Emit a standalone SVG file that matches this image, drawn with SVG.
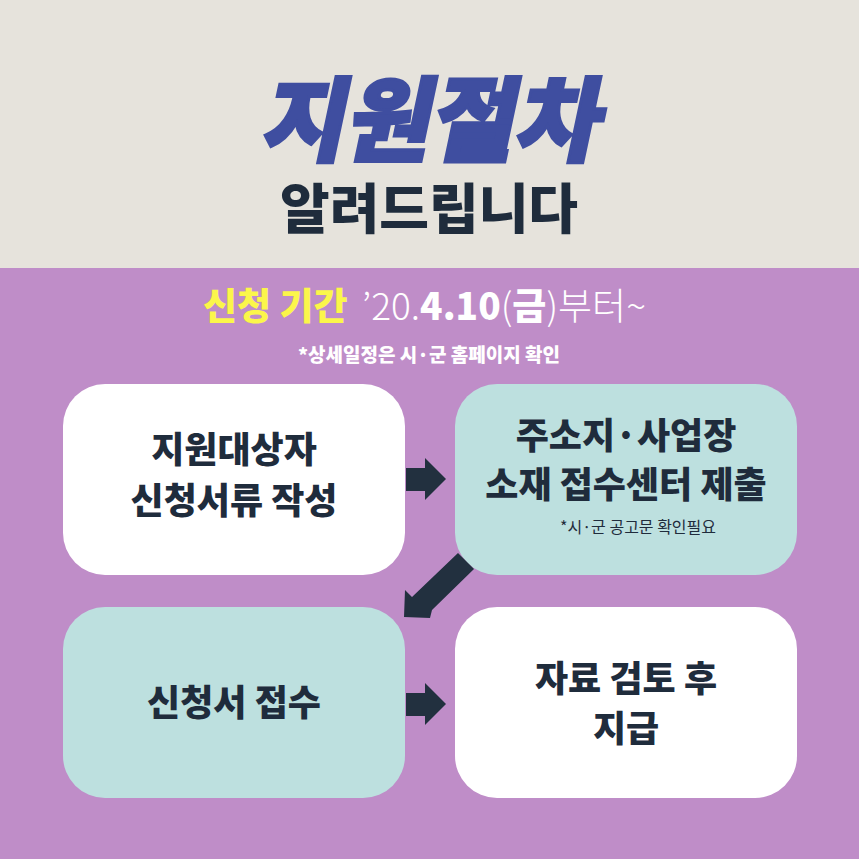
<svg xmlns="http://www.w3.org/2000/svg" width="859" height="859" viewBox="0 0 859 859">
<style>
.t{font-family:"Noto Sans CJK KR",sans-serif;font-weight:900;fill:#1f2c3c;text-anchor:middle}
.w{fill:#ffffff}.g{fill:#bde0df}
</style>
<rect width="859" height="268" fill="#e6e3dc"/>
<rect y="268" width="859" height="591" fill="#bf8dc8"/>
<text x="429" y="154" class="t" font-size="92" style="fill:#3f4ea0;stroke:#3f4ea0;stroke-width:3" transform="skewX(-12) translate(32,0)">지원절차</text>
<text x="429" y="229" class="t" font-size="54">알려드립니다</text>
<text x="203" y="320" font-family="Noto Sans CJK KR,sans-serif" font-weight="900" font-size="37" fill="#fbf64a">신청 기간</text>
<text x="362" y="320" font-family="Noto Sans CJK KR,sans-serif" font-size="37" fill="#fff" font-weight="300">’20.<tspan font-weight="900">4.10</tspan>(<tspan font-weight="900">금</tspan>)부터~</text>
<text x="429" y="362" class="t" font-size="19" style="fill:#fff">*상세일정은 시·군 홈페이지 확인</text>
<g id="n1"><rect x="63" y="384" width="342" height="191" rx="42" class="w"/><text class="t" x="234" y="463" font-size="36">지원대상자</text><text class="t" x="234" y="514" font-size="36">신청서류 작성</text></g>
<g id="n2"><rect x="455" y="384" width="342" height="191" rx="42" class="g"/><text class="t" x="626" y="449" font-size="36">주소지·사업장</text><text class="t" x="626" y="498" font-size="36">소재 접수센터 제출</text><text x="638" y="533" font-family="Noto Sans CJK KR,sans-serif" font-size="16" fill="#1f2c3c" text-anchor="middle">*시·군 공고문 확인필요</text></g>
<g id="n3"><rect x="63" y="607" width="342" height="191" rx="42" class="g"/><text class="t" x="234" y="716" font-size="36">신청서 접수</text></g>
<g id="n4"><rect x="455" y="607" width="342" height="191" rx="42" class="w"/><text class="t" x="626" y="692" font-size="36">자료 검토 후</text><text class="t" x="626" y="742" font-size="36">지급</text></g>
<g id="connectors" fill="#22303f">
<polygon points="406,468 425,468 425,458 446,479 425,500 425,491 406,491"/>
<polygon points="406,468 425,468 425,458 446,479 425,500 425,491 406,491" transform="translate(0,225)"/>
<polygon points="458,553 474,569 432,610 430,618 404,617 405,590 412,597"/>
</g>
</svg>
